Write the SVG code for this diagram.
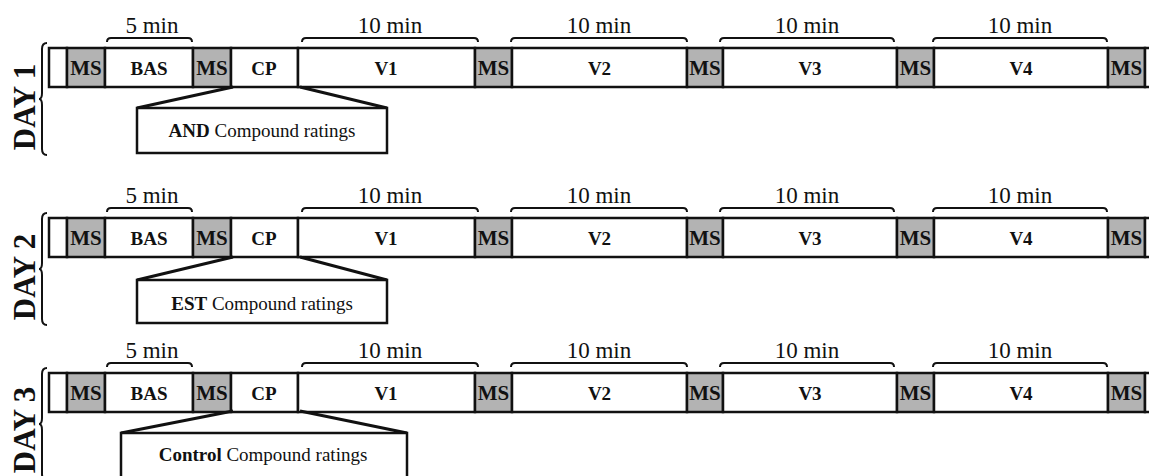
<svg xmlns="http://www.w3.org/2000/svg" width="1149" height="476" viewBox="0 0 1149 476">
<style>
.seg{fill:#fff;stroke:#111;stroke-width:2.5}
.ms{fill:#b3b3b3;stroke:#111;stroke-width:2.5}
.lbl{font-family:"Liberation Serif",serif;font-weight:bold;font-size:19px;text-anchor:middle;fill:#111}
.msl{font-family:"Liberation Serif",serif;font-weight:bold;font-size:21px;text-anchor:middle;fill:#111}
.dur{font-family:"Liberation Serif",serif;font-size:23px;text-anchor:middle;fill:#111}
.brk{fill:none;stroke:#111;stroke-width:2}
.call{fill:none;stroke:#111;stroke-width:3}
.box{fill:#fff;stroke:#111;stroke-width:2.5}
.ctxt{font-family:"Liberation Serif",serif;font-size:19px;text-anchor:middle;fill:#111}
.day{font-family:"Liberation Serif",serif;font-weight:bold;font-size:31px;text-anchor:middle;fill:#111}
.brace{fill:none;stroke:#111;stroke-width:2}
</style>
<defs>
<g id="bar">
<rect class="seg" x="49" y="0" width="18" height="39"/>
<rect class="ms" x="67" y="0" width="38" height="39"/>
<rect class="seg" x="105" y="0" width="88" height="39"/>
<rect class="ms" x="193" y="0" width="38" height="39"/>
<rect class="seg" x="231" y="0" width="67" height="39"/>
<rect class="seg" x="298" y="0" width="177" height="39"/>
<rect class="ms" x="475" y="0" width="37" height="39"/>
<rect class="seg" x="512" y="0" width="175" height="39"/>
<rect class="ms" x="687" y="0" width="36" height="39"/>
<rect class="seg" x="723" y="0" width="174" height="39"/>
<rect class="ms" x="897" y="0" width="37" height="39"/>
<rect class="seg" x="934" y="0" width="174" height="39"/>
<rect class="ms" x="1108" y="0" width="37" height="39"/>
<rect class="seg" x="1145" y="0" width="10" height="39"/>
<text class="msl" x="86" y="27">MS</text>
<text class="lbl" x="149" y="27">BAS</text>
<text class="msl" x="212" y="27">MS</text>
<text class="lbl" x="264" y="27">CP</text>
<text class="lbl" x="386" y="27">V1</text>
<text class="msl" x="493.5" y="27">MS</text>
<text class="lbl" x="599.5" y="27">V2</text>
<text class="msl" x="705" y="27">MS</text>
<text class="lbl" x="810" y="27">V3</text>
<text class="msl" x="915.5" y="27">MS</text>
<text class="lbl" x="1021" y="27">V4</text>
<text class="msl" x="1126.5" y="27">MS</text>
</g>
<g id="durs">
<path class="brk" d="M107,-6 Q107,-10 111,-10 L188,-10 Q192,-10 192,-6"/>
<path class="brk" d="M302,-6 Q302,-10 306,-10 L474,-10 Q478,-10 478,-6"/>
<path class="brk" d="M511,-6 Q511,-10 515,-10 L683,-10 Q687,-10 687,-6"/>
<path class="brk" d="M720,-6 Q720,-10 724,-10 L890,-10 Q894,-10 894,-6"/>
<path class="brk" d="M933,-6 Q933,-10 937,-10 L1103,-10 Q1107,-10 1107,-6"/>
<text class="dur" x="152" y="-15">5 min</text>
<text class="dur" x="390" y="-15">10 min</text>
<text class="dur" x="599" y="-15">10 min</text>
<text class="dur" x="807" y="-15">10 min</text>
<text class="dur" x="1020" y="-15">10 min</text>
</g>
<path id="brc" class="brace" d="M47,0 Q42,0 42,6 L42,50 Q42,56 39,56 Q42,56 42,62 L42,106 Q42,112 47,112"/>
</defs>

<g id="day1" transform="translate(0,48)">
<use href="#brc" y="-5"/>
<text class="day" transform="translate(35,59) rotate(-90)">DAY 1</text>
<use href="#bar"/>
<use href="#durs"/>
</g>
<g id="day2" transform="translate(0,218)">
<use href="#brc" y="-5"/>
<text class="day" transform="translate(35,59) rotate(-90)">DAY 2</text>
<use href="#bar"/>
<use href="#durs"/>
</g>
<g id="day3" transform="translate(0,373)">
<use href="#brc" y="-5"/>
<text class="day" transform="translate(35,57) rotate(-90)">DAY 3</text>
<use href="#bar"/>
<use href="#durs"/>
</g>

<g id="connectors">
<path class="call" d="M233,87 L137,108 M300,87 L387,108"/>
<path class="call" d="M233,257 L137,280 M300,257 L387,280"/>
<path class="call" d="M233,411 L121,433 M300,411 L407,433"/>
</g>

<g id="callout1">
<rect class="box" x="137" y="108" width="250" height="45"/>
<text class="ctxt" x="262" y="137"><tspan font-weight="bold">AND</tspan> Compound ratings</text>
</g>
<g id="callout2">
<rect class="box" x="137" y="280" width="250" height="43"/>
<text class="ctxt" x="262" y="310"><tspan font-weight="bold">EST</tspan> Compound ratings</text>
</g>
<g id="callout3">
<rect class="box" x="121" y="433" width="286" height="60"/>
<text class="ctxt" x="263" y="461"><tspan font-weight="bold">Control</tspan> Compound ratings</text>
</g>
</svg>
